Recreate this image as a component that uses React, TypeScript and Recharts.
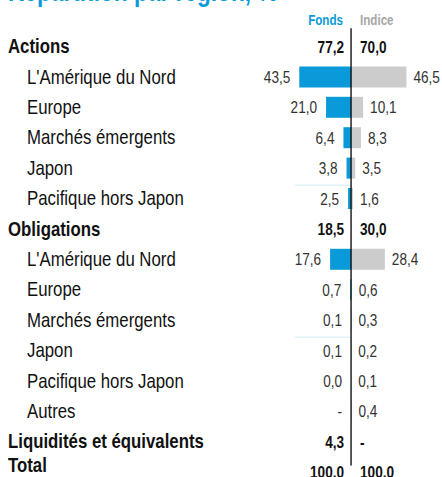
import React from "react";
import { BarChart, Bar, XAxis, YAxis, LabelList, ReferenceLine } from "recharts";

const categories = [
  "Actions",
  "L'Amérique du Nord",
  "Europe",
  "Marchés émergents",
  "Japon",
  "Pacifique hors Japon",
  "Obligations",
  "L'Amérique du Nord",
  "Europe",
  "Marchés émergents",
  "Japon",
  "Pacifique hors Japon",
  "Autres",
  "Liquidités et équivalents",
  "Total",
];
const headerRows = [true, false, false, false, false, false, true, false, false, false, false, false, false, true, true];
const fonds: (number | null)[] = [77.2, 43.5, 21.0, 6.4, 3.8, 2.5, 18.5, 17.6, 0.7, 0.1, 0.1, 0.0, null, 4.3, 100.0];
const indice: (number | null)[] = [70.0, 46.5, 10.1, 8.3, 3.5, 1.6, 30.0, 28.4, 0.6, 0.3, 0.2, 0.1, 0.4, null, 100.0];

const BLUE = "#0a9ad9";
const GRAY = "#cccccc";
const FONT = "'Liberation Sans', Arial, sans-serif";
const EPS = 1e-6; // keeps empty rows in the stack so their labels still render

const fmt = (v: number | null) => (v == null ? "-" : v.toFixed(1).replace(".", ","));

const data = categories.map((name, i) => ({
  key: `${i}`,
  name,
  fondsBar: headerRows[i] || !fonds[i] ? -EPS : -(fonds[i] as number),
  indiceBar: headerRows[i] || !indice[i] ? EPS : (indice[i] as number),
}));

// narrow text: Liberation Sans squeezed horizontally
const NText = ({ x, y, anchor = "start", size, weight = 400, fill, sx = 0.82, children }: any) => (
  <text
    transform={`translate(${x} ${y}) scale(${sx} 1)`}
    textAnchor={anchor}
    fontFamily={FONT}
    fontSize={size}
    fontWeight={weight}
    fill={fill}
  >
    {children}
  </text>
);

const CategoryTick = (props: any) => {
  const { y, payload } = props;
  const i = Number(payload.value);
  const bold = headerRows[i];
  // the "Total" label sits a bit higher than its row in the original
  const dy = i === categories.length - 1 ? 0 : 7;
  return (
    <NText x={bold ? 8 : 27} y={y + dy} size={20} weight={bold ? 700 : 400} fill="#111" sx={0.84}>
      {categories[i]}
    </NText>
  );
};

const FondsLabel = (props: any) => {
  const { x, y, width, height, value } = props;
  const i = Number(value);
  const bold = headerRows[i];
  const left = Math.min(x, x + width);
  return (
    <NText
      x={bold ? left - 7 : left - 9}
      y={y + height / 2 + 6}
      anchor="end"
      size={17}
      weight={bold ? 700 : 400}
      fill={bold ? "#111" : "#333"}
      sx={0.8}
    >
      {fmt(fonds[i])}
    </NText>
  );
};

const IndiceLabel = (props: any) => {
  const { x, y, width, height, value } = props;
  const i = Number(value);
  const bold = headerRows[i];
  const right = Math.max(x, x + width);
  return (
    <NText
      x={bold ? right + 9 : right + 7}
      y={y + height / 2 + 6}
      size={17}
      weight={bold ? 700 : 400}
      fill={bold ? "#111" : "#333"}
      sx={0.8}
    >
      {fmt(indice[i])}
    </NText>
  );
};

// divider runs from just above "Actions" to just below "Liquidités"
const centerLine = (p: any) => (
  <line
    x1={p.x1}
    x2={p.x2}
    y1={Math.min(p.y1, p.y2) - 18}
    y2={Math.max(p.y1, p.y2) + 24}
    stroke="#000"
    strokeWidth={1.3}
  />
);

// faint rule sitting a little above a row
const faintRule = (p: any) => (
  <line x1={p.x1} x2={p.x2} y1={p.y1 - 13} y2={p.y2 - 13} stroke="#d3ecf8" strokeWidth={1} />
);

export default function App() {
  return (
    <div style={{ position: "absolute", left: 0, top: 0, width: 442, height: 477, overflow: "hidden", background: "#fff" }}>
      <BarChart
        width={442}
        height={490}
        data={data}
        layout="vertical"
        stackOffset="sign"
        barSize={21}
        margin={{ top: 31, right: 0, bottom: 3, left: 0 }}
      >
        <NText x={8} y={1} size={27} weight={700} fill={BLUE} sx={0.84}>
          Répartition par région, %
        </NText>
        <NText x={343} y={25} anchor="end" size={14} weight={700} fill={BLUE} sx={0.83}>
          Fonds
        </NText>
        <NText x={360} y={25} size={14} weight={700} fill="#a6a6a6" sx={0.83}>
          Indice
        </NText>
        <XAxis type="number" domain={[-126.9, 76.4]} hide allowDataOverflow />
        <YAxis
          type="category"
          dataKey="key"
          width={200}
          axisLine={false}
          tickLine={false}
          tick={<CategoryTick />}
          interval={0}
        />
        <ReferenceLine
          segment={[
            { x: -47, y: "5" },
            { x: 0, y: "5" },
          ]}
          shape={faintRule}
        />
        <ReferenceLine
          segment={[
            { x: -47, y: "10" },
            { x: 0, y: "10" },
          ]}
          shape={faintRule}
        />
        <Bar dataKey="fondsBar" stackId="a" fill={BLUE} isAnimationActive={false}>
          <LabelList dataKey="key" content={<FondsLabel />} />
        </Bar>
        <Bar dataKey="indiceBar" stackId="a" fill={GRAY} isAnimationActive={false}>
          <LabelList dataKey="key" content={<IndiceLabel />} />
        </Bar>
        <ReferenceLine
          segment={[
            { x: 0, y: "0" },
            { x: 0, y: "13" },
          ]}
          shape={centerLine}
        />
      </BarChart>
    </div>
  );
}
